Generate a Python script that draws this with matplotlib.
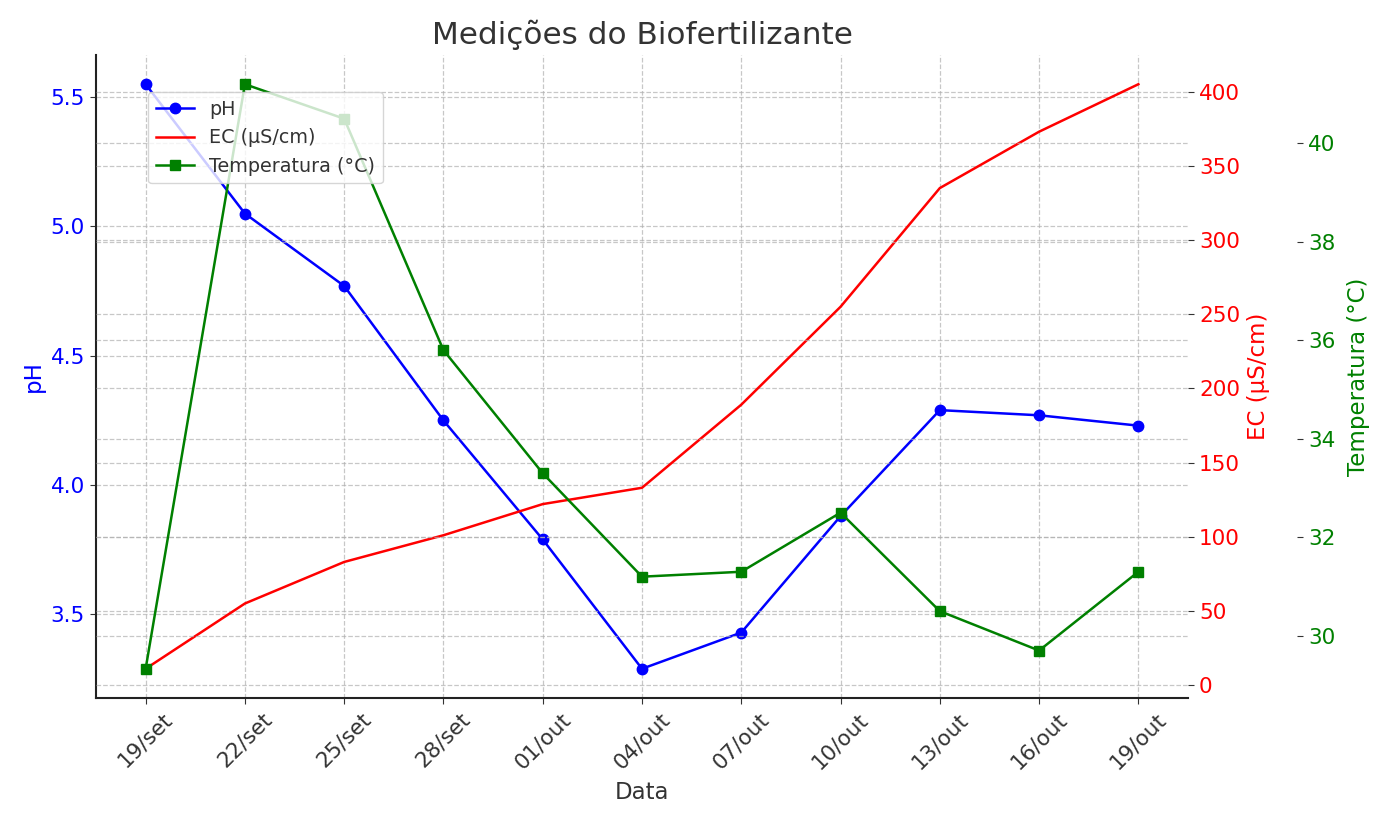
import matplotlib
matplotlib.use("Agg")
import matplotlib.pyplot as plt
import pandas as pd

dates = ["2023-09-19", "2023-09-22", "2023-09-25", "2023-09-28", "2023-10-01",
         "2023-10-04", "2023-10-07", "2023-10-10", "2023-10-13", "2023-10-16", "2023-10-19"]
tick_labels = ["19/set", "22/set", "25/set", "28/set", "01/out", "04/out",
               "07/out", "10/out", "13/out", "16/out", "19/out"]
ph = [5.55, 5.05, 4.77, 4.25, 3.79, 3.29, 3.43, 3.88, 4.29, 4.27, 4.23]
ec = [11, 55, 83, 101, 122, 133, 189, 255, 335, 373, 405]
temp = [29.33, 41.2, 40.5, 35.8, 33.3, 31.2, 31.3, 32.5, 30.5, 29.7, 31.3]

x = pd.to_datetime(dates)
dark = "#333333"
plt.rcParams['font.family'] = ['DejaVu Sans']

fig = plt.figure(figsize=(13.92, 8.25), dpi=100)
ax1 = fig.add_axes([96/1392, 1-698/825, 1092/1392, 643/825])
ax2 = ax1.twinx()
ax3 = ax1.twinx()
ax3.spines['right'].set_position(('axes', 1.1))

l1, = ax1.plot(x, ph, color='blue', marker='o', markersize=7.5, lw=1.8, label='pH')
l2, = ax2.plot(x, ec, color='red', lw=1.8, label='EC (µS/cm)')
l3, = ax3.plot(x, temp, color='green', marker='s', markersize=7.5, lw=1.8, label='Temperatura (°C)')

for ax in (ax1, ax2, ax3):
    ax.grid(True, linestyle='--', color='#b0b0b0', alpha=0.7, lw=0.9)
    ax.spines['top'].set_visible(False)
    ax.spines['right'].set_visible(False)
    ax.tick_params(colors=dark, labelsize=15.5, length=4, pad=4)
ax2.spines['left'].set_visible(False)
ax3.spines['left'].set_visible(False)
ax2.spines['bottom'].set_visible(False)
ax3.spines['bottom'].set_visible(False)
for sp in ('left', 'bottom'):
    ax1.spines[sp].set_color('#222222')
    ax1.spines[sp].set_linewidth(1.5)

ax1.tick_params(axis='y', labelcolor='blue')
ax2.tick_params(axis='y', labelcolor='red')
ax3.tick_params(axis='y', labelcolor='green')

ax1.set_xticks(x)
ax1.set_xticklabels(tick_labels, rotation=45)
ax1.set_ylabel('pH', color='blue', fontsize=16.5)
ax2.set_ylabel('EC (µS/cm)', color='red', fontsize=16.5, labelpad=5)
ax3.set_ylabel('Temperatura (°C)', color='green', fontsize=16.5, labelpad=8)
ax1.set_xlabel('Data', color=dark, fontsize=16.5, labelpad=6)
ax1.set_title('Medições do Biofertilizante', color=dark, fontsize=22.4, pad=8)

ax3.legend(handles=[l1, l2, l3], loc='upper left', bbox_to_anchor=(0.0476, 0.9425),
           borderaxespad=0, fontsize=13.8, labelcolor=dark)

fig.savefig('out.png', dpi=100)
